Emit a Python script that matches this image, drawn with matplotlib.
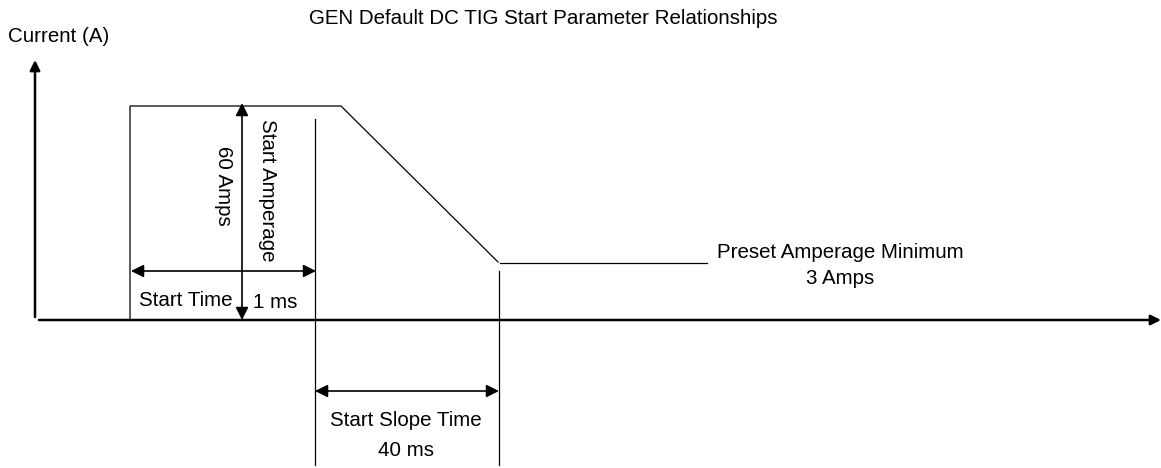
import matplotlib
matplotlib.use('Agg')
import matplotlib.pyplot as plt

# diagram units: x to the right, h = height above the time axis
wave_x = [130, 130, 341, 498]
wave_h = [0, 214, 214, 58]
min_x = [500, 707]
min_h = [57, 57]

start_amps = 60
min_amps = 3
start_time_ms = 1
slope_time_ms = 40

title = "GEN Default DC TIG Start Parameter Relationships"
y_label = "Current (A)"

plt.rcParams['font.family'] = ['Liberation Sans', 'DejaVu Sans']
FS = 14.8

fig = plt.figure(figsize=(11.61, 4.68), dpi=100)
ax = fig.add_axes([0, 0, 1, 1])
ax.set_xlim(0, 1161)
ax.set_ylim(320 - 468, 320)
ax.axis('off')

k = 'black'
thin = 0.9

def arrow(x0, y0, x1, y1, style='-|>', lw=thin, scale=14):
    ax.annotate('', xy=(x1, y1), xytext=(x0, y0),
                arrowprops=dict(arrowstyle=style, color=k, lw=lw,
                                mutation_scale=scale, shrinkA=0, shrinkB=0))

# axes
arrow(35, 3, 35, 260, lw=1.8, scale=15)
arrow(39, 0, 1161, 0, lw=1.8, scale=15)

# waveform
ax.plot(wave_x, wave_h, color=k, lw=thin, solid_joinstyle='miter')
ax.plot(min_x, min_h, color=k, lw=thin)

# extension lines
ax.plot([315, 315], [201, -145], color=k, lw=thin)
ax.plot([499, 499], [49, -145], color=k, lw=thin)

# dimension arrows
arrow(131, 49, 316, 49, style='<|-|>', lw=1.2, scale=19)
arrow(242, 0, 242, 217, style='<|-|>', lw=1.2, scale=19)
arrow(315, -71, 499, -71, style='<|-|>', lw=1.2, scale=19)

# labels
ax.text(543, 302, title, fontsize=FS, ha='center', va='center')
ax.text(8, 283, y_label, fontsize=FS, ha='left', va='center')
ax.text(223, 134, f"{start_amps} Amps", fontsize=FS, rotation=-90,
        ha='center', va='center')
ax.text(267, 130, "Start Amperage", fontsize=FS, rotation=-90,
        ha='center', va='center')
ax.text(186, 20, "Start Time", fontsize=FS, ha='center', va='center')
ax.text(275, 18, f"{start_time_ms} ms", fontsize=FS, ha='center', va='center')
ax.text(406, -100, "Start Slope Time", fontsize=FS, ha='center', va='center')
ax.text(406, -131, f"{slope_time_ms} ms", fontsize=FS, ha='center', va='center')
ax.text(840, 68, "Preset Amperage Minimum", fontsize=FS, ha='center', va='center')
ax.text(840, 41, f"{min_amps} Amps", fontsize=FS, ha='center', va='center')

fig.savefig('out.png', dpi=100, facecolor='white')
